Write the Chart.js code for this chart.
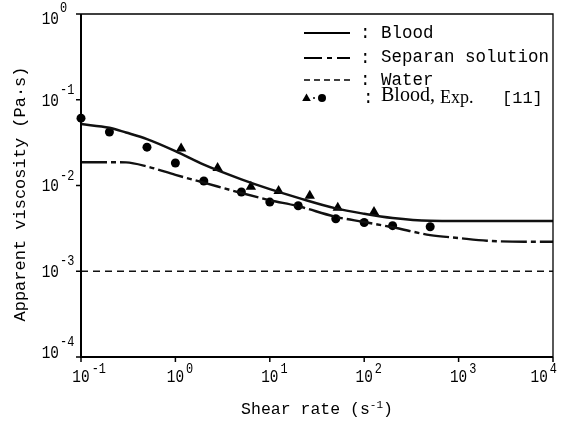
<!DOCTYPE html>
<html>
<head>
<meta charset="utf-8">
<script src="https://cdn.jsdelivr.net/npm/chart.js@4.4.1/dist/chart.umd.min.js"></script>
<style>
  html, body { margin: 0; padding: 0; background: #fff; }
  #viscosityChart { display: block; }
</style>
</head>
<body>
<canvas id="viscosityChart" width="566" height="423"></canvas>
<script>
// shear rate grid for the model curves (1/s)
const modelShear = [0.1, 0.2, 0.3, 0.5, 1, 2, 5, 10, 20, 50, 100, 200, 500, 1000, 2000, 5000, 10000];
// apparent viscosity (Pa.s)
const bloodModel   = [0.052, 0.0472, 0.0415, 0.0348, 0.0252, 0.0175, 0.0118, 0.00906, 0.00718, 0.00541, 0.00468, 0.00417, 0.00387, 0.00385, 0.00385, 0.00385, 0.00385];
const separanModel = [0.0187, 0.0187, 0.0186, 0.0167, 0.0133, 0.0108, 0.00818, 0.00674, 0.00573, 0.00431, 0.00375, 0.00326, 0.00264, 0.00244, 0.00227, 0.00221, 0.00221];
const waterShear = [0.1, 10000];
const waterModel = [0.001, 0.001];

// blood, experiment [11]
const expCircleShear = [0.1, 0.2, 0.5, 1, 2, 5, 10, 20, 50, 100, 200, 500];
const expCircleVisc  = [0.061, 0.042, 0.028, 0.0183, 0.0113, 0.0084, 0.0064, 0.0058, 0.0041, 0.0037, 0.0034, 0.0033];
const expTriangleShear = [1.15, 2.8, 6.3, 12.4, 26.5, 52.5, 127];
const expTriangleVisc  = [0.027, 0.016, 0.0097, 0.0086, 0.0076, 0.0055, 0.0049];

// decade exponents for the tick labels
const xDecades = [-1, 0, 1, 2, 3, 4];
const yDecades = [0, -1, -2, -3, -4];

const MONO = '"Liberation Mono", "DejaVu Sans Mono", monospace';
const SERIF = '"Liberation Serif", "DejaVu Serif", serif';

function toPoints(xs, ys) {
    return xs.map((x, i) => ({ x: x, y: ys[i] }));
}

// draws text squeezed horizontally (the original lettering is tall and narrow)
function narrowText(ctx, text, x, y, sx) {
    ctx.save();
    ctx.translate(x, y);
    ctx.scale(sx, 1);
    ctx.fillText(text, 0, 0);
    ctx.restore();
}

function drawTriangle(ctx, x, y, r) {
    ctx.beginPath();
    ctx.moveTo(x, y - r);
    ctx.lineTo(x + r * 0.866, y + r * 0.5);
    ctx.lineTo(x - r * 0.866, y + r * 0.5);
    ctx.closePath();
    ctx.fill();
}

const frameAndText = {
    id: 'frameAndText',
    afterDraw(chart) {
        const ctx = chart.ctx;
        const a = chart.chartArea;
        const xs = chart.scales.x;
        const ys = chart.scales.y;
        ctx.save();
        ctx.strokeStyle = '#000';
        ctx.fillStyle = '#000';

        // frame: left / bottom heavier than top / right
        ctx.lineWidth = 2;
        ctx.beginPath();
        ctx.moveTo(a.left, a.top);
        ctx.lineTo(a.left, a.bottom);
        ctx.lineTo(a.right, a.bottom);
        ctx.stroke();
        ctx.lineWidth = 1.3;
        ctx.beginPath();
        ctx.moveTo(a.left, a.top);
        ctx.lineTo(a.right, a.top);
        ctx.lineTo(a.right, a.bottom);
        ctx.stroke();

        // tick marks
        ctx.lineWidth = 1.5;
        yDecades.forEach(p => {
            const py = ys.getPixelForValue(Math.pow(10, p));
            ctx.beginPath();
            ctx.moveTo(a.left - 5, py);
            ctx.lineTo(a.left, py);
            ctx.stroke();
        });
        xDecades.forEach(p => {
            const px = xs.getPixelForValue(Math.pow(10, p));
            ctx.beginPath();
            ctx.moveTo(px, a.bottom);
            ctx.lineTo(px, a.bottom + 5);
            ctx.stroke();
        });

        // y tick labels 10^p
        ctx.textBaseline = 'middle';
        yDecades.forEach(p => {
            const py = ys.getPixelForValue(Math.pow(10, p));
            const cy = Math.min(Math.max(py + 1, 19), 353);
            ctx.font = '18px ' + MONO;
            ctx.textAlign = 'right';
            narrowText(ctx, '10', 59, cy, 0.8);
            ctx.font = '14px ' + MONO;
            ctx.textAlign = 'left';
            narrowText(ctx, String(p), 60, cy - 10.5, 0.85);
        });

        // x tick labels 10^p
        xDecades.forEach(p => {
            const px = xs.getPixelForValue(Math.pow(10, p));
            ctx.font = '18px ' + MONO;
            const bw = ctx.measureText('10').width * 0.8;
            ctx.font = '14px ' + MONO;
            const sw = ctx.measureText(String(p)).width * 0.85;
            let left = px - bw / 2;
            if (left + bw + 2 + sw > 557) left = 557 - bw - 2 - sw;
            ctx.textAlign = 'left';
            ctx.font = '18px ' + MONO;
            narrowText(ctx, '10', left, 377, 0.8);
            ctx.font = '14px ' + MONO;
            narrowText(ctx, String(p), left + bw + 2, 369, 0.85);
        });

        // x axis title with superscript
        ctx.font = '16.5px ' + MONO;
        const t1 = 'Shear rate (s';
        const w1 = ctx.measureText(t1).width;
        ctx.font = '11px ' + MONO;
        const w2 = ctx.measureText('-1').width;
        ctx.font = '16.5px ' + MONO;
        const w3 = ctx.measureText(')').width;
        let tx = 317 - (w1 + w2 + w3) / 2;
        ctx.textAlign = 'left';
        ctx.fillText(t1, tx, 410);
        ctx.font = '11px ' + MONO;
        ctx.fillText('-1', tx + w1, 405);
        ctx.font = '16.5px ' + MONO;
        ctx.fillText(')', tx + w1 + w2, 410);

        // y axis title
        ctx.save();
        ctx.translate(20, 194);
        ctx.rotate(-Math.PI / 2);
        ctx.textAlign = 'center';
        ctx.font = '17px ' + MONO;
        ctx.fillText('Apparent viscosity (Pa\u00b7s)', 0, 0);
        ctx.restore();

        // legend
        const rows = [33, 58, 80, 98];
        ctx.lineWidth = 2.2;
        ctx.beginPath();
        ctx.moveTo(304, rows[0]);
        ctx.lineTo(350, rows[0]);
        ctx.stroke();
        ctx.beginPath();
        ctx.moveTo(304, rows[1]); ctx.lineTo(322, rows[1]);
        ctx.moveTo(327, rows[1]); ctx.lineTo(332, rows[1]);
        ctx.moveTo(337, rows[1]); ctx.lineTo(350, rows[1]);
        ctx.stroke();
        ctx.lineWidth = 1.5;
        ctx.setLineDash([6, 4]);
        ctx.beginPath();
        ctx.moveTo(304, rows[2]);
        ctx.lineTo(350, rows[2]);
        ctx.stroke();
        ctx.setLineDash([]);
        drawTriangle(ctx, 306.5, rows[3] + 0.5, 5);
        ctx.beginPath();
        ctx.arc(314, rows[3], 1, 0, Math.PI * 2);
        ctx.fill();
        ctx.beginPath();
        ctx.arc(322, rows[3], 4, 0, Math.PI * 2);
        ctx.fill();

        ctx.textAlign = 'left';
        ctx.font = '17.5px ' + MONO;
        ctx.fillText(':', 360, rows[0]);
        ctx.fillText(':', 360, rows[1]);
        ctx.fillText(':', 360, rows[2]);
        ctx.fillText(':', 363, rows[3]);
        ctx.fillText('Blood', 381, rows[0]);
        ctx.fillText('Separan solution', 381, rows[1] - 1);
        ctx.fillText('Water', 381, rows[2]);
        ctx.font = '20px ' + SERIF;
        ctx.fillText('Blood,', 381, rows[3] - 2);
        ctx.font = '18px ' + SERIF;
        ctx.fillText('Exp.', 440, rows[3]);
        ctx.font = '17px ' + MONO;
        ctx.fillText('[11]', 502, rows[3]);

        ctx.restore();
    }
};

const ctx = document.getElementById('viscosityChart').getContext('2d');
const viscosityChart = new Chart(ctx, {
    type: 'scatter',
    data: {
        datasets: [{
            label: 'Blood',
            data: toPoints(modelShear, bloodModel),
            showLine: true,
            borderColor: '#111',
            borderWidth: 2.5,
            pointRadius: 0,
            cubicInterpolationMode: 'monotone'
        }, {
            label: 'Separan solution',
            data: toPoints(modelShear, separanModel),
            showLine: true,
            borderColor: '#111',
            borderWidth: 2.4,
            borderDash: [26, 4, 5, 4],
            pointRadius: 0,
            cubicInterpolationMode: 'monotone'
        }, {
            label: 'Water',
            data: toPoints(waterShear, waterModel),
            showLine: true,
            borderColor: '#111',
            borderWidth: 1.5,
            borderDash: [7, 5],
            pointRadius: 0
        }, {
            label: 'Blood, Exp. [11] (circles)',
            data: toPoints(expCircleShear, expCircleVisc),
            pointStyle: 'circle',
            pointRadius: 4.5,
            backgroundColor: '#000',
            borderColor: '#000',
            borderWidth: 0,
            clip: false
        }, {
            label: 'Blood, Exp. [11] (triangles)',
            data: toPoints(expTriangleShear, expTriangleVisc),
            pointStyle: 'triangle',
            pointRadius: 6,
            backgroundColor: '#000',
            borderColor: '#000',
            borderWidth: 0,
            clip: false
        }]
    },
    options: {
        responsive: false,
        animation: false,
        devicePixelRatio: 1,
        layout: { padding: { left: 81, right: 13, top: 14, bottom: 66 } },
        plugins: {
            legend: { display: false },
            tooltip: { enabled: false }
        },
        scales: {
            x: { type: 'logarithmic', min: 0.1, max: 10000, display: false },
            y: { type: 'logarithmic', min: 0.0001, max: 1, display: false }
        }
    },
    plugins: [frameAndText]
});
</script>
</body>
</html>
